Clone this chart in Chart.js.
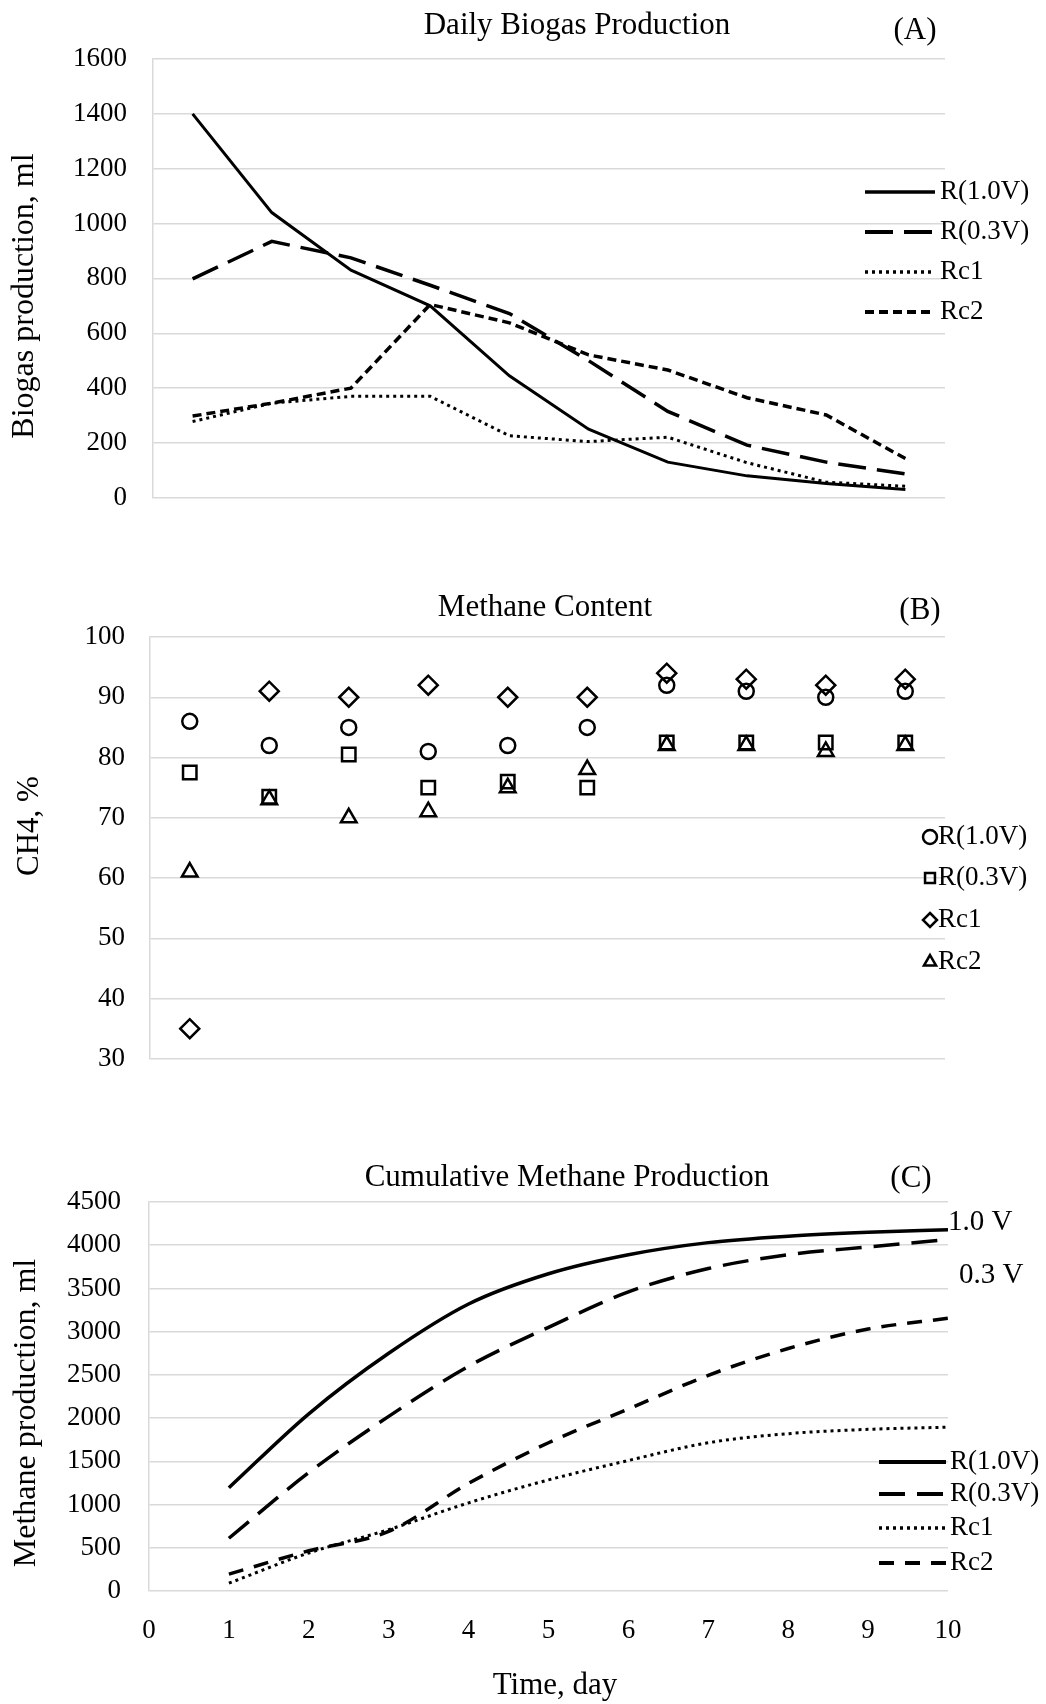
<!DOCTYPE html>
<html><head><meta charset="utf-8">
<script src="https://cdn.jsdelivr.net/npm/chart.js@4.4.1/dist/chart.umd.min.js"></script>
<style>
html,body{margin:0;padding:0;background:#fff;}
#wrap{position:relative;width:1046px;height:1704px;background:#fff;}
canvas{position:absolute;left:0;}
</style></head><body>
<div id="wrap">
<canvas id="cA" width="1046" height="540" style="top:0px"></canvas>
<canvas id="cB" width="1046" height="560" style="top:540px"></canvas>
<canvas id="cC" width="1046" height="604" style="top:1100px"></canvas>
</div>
<script>
// ---------- data ----------
const days = [1, 2, 3, 4, 5, 6, 7, 8, 9, 10];
const seriesNames = ['R(1.0V)', 'R(0.3V)', 'Rc1', 'Rc2'];

// (A) Daily biogas production, ml
const biogasR10 = [1400, 1040, 830, 700, 445, 250, 130, 80, 52, 30];
const biogasR03 = [798, 935, 875, 775, 672, 500, 315, 192, 130, 87];
const biogasRc1 = [278, 345, 370, 370, 226, 205, 221, 128, 57, 42];
const biogasRc2 = [298, 345, 400, 705, 638, 521, 466, 365, 302, 143];

// (B) Methane content, %
const ch4R10 = [86, 82, 85, 81, 82, 85, 92, 91, 90, 91];
const ch4R03 = [77.5, 73.5, 80.5, 75, 76, 75, 82.5, 82.5, 82.5, 82.5];
const ch4Rc1 = [35, 91, 90, 92, 90, 90, 94, 93, 92, 93];
const ch4Rc2 = [61, 73, 70, 71, 75, 78, 82, 82, 81, 82];

// (C) Cumulative methane production, ml
const cumR10 = [1195, 2050, 2750, 3320, 3670, 3890, 4030, 4105, 4150, 4180];
const cumR03 = [610, 1370, 2020, 2600, 3050, 3460, 3730, 3890, 3980, 4065];
const cumRc1 = [90, 440, 710, 1020, 1285, 1510, 1715, 1820, 1870, 1895];
const cumRc2 = [195, 465, 690, 1245, 1715, 2105, 2495, 2805, 3030, 3155];

// tick ranges
const biogasTicks = [0, 200, 400, 600, 800, 1000, 1200, 1400, 1600];
const ch4Ticks = [30, 40, 50, 60, 70, 80, 90, 100];
const cumTicks = [0, 500, 1000, 1500, 2000, 2500, 3000, 3500, 4000, 4500];
const timeTicks = [0, 1, 2, 3, 4, 5, 6, 7, 8, 9, 10];

// ---------- styling ----------
const FONT = "'Liberation Serif','Times New Roman',serif";
Chart.defaults.font.family = FONT;
Chart.defaults.color = '#000';
const GRID = '#d9d9d9';

function drawMarker(ctx, style, x, y, r) {
  ctx.beginPath();
  if (style === 'circle') {
    ctx.arc(x, y, r, 0, Math.PI * 2);
  } else if (style === 'rect') {
    const h = r * Math.SQRT1_2;
    ctx.rect(x - h, y - h, 2 * h, 2 * h);
  } else if (style === 'rectRot') {
    ctx.moveTo(x, y - r); ctx.lineTo(x + r, y); ctx.lineTo(x, y + r); ctx.lineTo(x - r, y); ctx.closePath();
  } else if (style === 'triangle') {
    ctx.moveTo(x, y - r);
    ctx.lineTo(x + r * Math.sin(Math.PI * 2 / 3), y - r * Math.cos(Math.PI * 2 / 3));
    ctx.lineTo(x - r * Math.sin(Math.PI * 2 / 3), y - r * Math.cos(Math.PI * 2 / 3));
    ctx.closePath();
  }
  ctx.stroke();
}

const textPlugin = {
  id: 'texts',
  afterDraw(chart, args, opts) {
    const ctx = chart.ctx;
    (opts.items || []).forEach(it => {
      ctx.save();
      ctx.fillStyle = '#000';
      ctx.font = (it.size || 27) + 'px ' + FONT;
      ctx.textAlign = it.align || 'center';
      ctx.textBaseline = 'middle';
      ctx.translate(it.x, it.y);
      if (it.rotate) ctx.rotate(it.rotate);
      ctx.fillText(it.text, 0, 0);
      ctx.restore();
    });
  }
};

const legendPlugin = {
  id: 'manualLegend',
  afterDraw(chart, args, opts) {
    if (!opts.rows) return;
    const ctx = chart.ctx;
    chart.data.datasets.forEach((ds, i) => {
      const y = opts.rows[i];
      ctx.save();
      ctx.strokeStyle = '#000';
      if (opts.kind === 'marker') {
        ctx.lineWidth = opts.markerWidth || 2.5;
        drawMarker(ctx, ds.pointStyle, opts.mx, y, opts.mr || 7);
      } else {
        ctx.lineWidth = (ds.borderWidth || 3) + 0.5;
        ctx.setLineDash(ds.borderDash || []);
        ctx.lineCap = 'butt';
        ctx.beginPath();
        ctx.moveTo(opts.x1, y);
        ctx.lineTo(opts.x2, y);
        ctx.stroke();
      }
      ctx.restore();
      ctx.save();
      ctx.fillStyle = '#000';
      ctx.font = (opts.size || 27) + 'px ' + FONT;
      ctx.textAlign = 'left';
      ctx.textBaseline = 'middle';
      ctx.fillText(ds.label, opts.tx, y);
      ctx.restore();
    });
  }
};
Chart.register(textPlugin, legendPlugin);

function yScale(ticks, width, pad) {
  return {
    type: 'linear',
    min: ticks[0], max: ticks[ticks.length - 1],
    ticks: { stepSize: ticks[1] - ticks[0], padding: pad, font: { size: 27 }, color: '#000',
             callback: v => String(v) },
    grid: { color: GRID, lineWidth: 1.5, drawTicks: false },
    border: { display: true, color: GRID, width: 1.5 },
    afterFit(s) { s.width = width; }
  };
}
const basePlugins = { legend: { display: false }, tooltip: { enabled: false }, title: { display: false } };

// ---------- (A) ----------
new Chart(document.getElementById('cA'), {
  type: 'line',
  data: {
    labels: days.map(String),
    datasets: [
      { label: seriesNames[0], data: biogasR10, borderColor: '#000', borderWidth: 3, borderDash: [], pointRadius: 0, tension: 0 },
      { label: seriesNames[1], data: biogasR03, borderColor: '#000', borderWidth: 3.5, borderDash: [28, 11], pointRadius: 0, tension: 0 },
      { label: seriesNames[2], data: biogasRc1, borderColor: '#000', borderWidth: 3, borderDash: [3, 4], pointRadius: 0, tension: 0 },
      { label: seriesNames[3], data: biogasRc2, borderColor: '#000', borderWidth: 3.5, borderDash: [9, 5], pointRadius: 0, tension: 0 }
    ]
  },
  options: {
    responsive: false, animation: false, devicePixelRatio: 1,
    layout: { padding: { left: 0, top: 59, right: 101, bottom: 30 } },
    scales: {
      x: { type: 'category', display: false, offset: true },
      y: yScale(biogasTicks, 153, 26)
    },
    plugins: Object.assign({}, basePlugins, {
      texts: { items: [
        { text: 'Daily Biogas Production', x: 577, y: 26, size: 31 },
        { text: '(A)', x: 915, y: 31, size: 31 },
        { text: 'Biogas production, ml', x: 25, y: 296, size: 32, rotate: -Math.PI / 2 }
      ] },
      manualLegend: { kind: 'line', x1: 865, x2: 935, tx: 940, rows: [192, 232, 272, 312], size: 27 }
    })
  }
});

// ---------- (B) ----------
function markerSet(label, data, style, r) {
  return { label, data, showLine: false, pointStyle: style, pointRadius: r, pointBorderWidth: 2.5,
           borderColor: '#000', pointBorderColor: '#000', pointBackgroundColor: 'rgba(0,0,0,0)', backgroundColor: 'rgba(0,0,0,0)' };
}
new Chart(document.getElementById('cB'), {
  type: 'line',
  data: {
    labels: days.map(String),
    datasets: [
      markerSet(seriesNames[0], ch4R10, 'circle', 7.5),
      markerSet(seriesNames[1], ch4R03, 'rect', 9.5),
      markerSet(seriesNames[2], ch4Rc1, 'rectRot', 9.5),
      markerSet(seriesNames[3], ch4Rc2, 'triangle', 9)
    ]
  },
  options: {
    responsive: false, animation: false, devicePixelRatio: 1,
    layout: { padding: { left: 0, top: 97, right: 101, bottom: 31 } },
    scales: {
      x: { type: 'category', display: false, offset: true },
      y: yScale(ch4Ticks, 150, 25)
    },
    plugins: Object.assign({}, basePlugins, {
      texts: { items: [
        { text: 'Methane Content', x: 545, y: 68, size: 31 },
        { text: '(B)', x: 920, y: 71, size: 31 },
        { text: 'CH4, %', x: 30, y: 286, size: 31, rotate: -Math.PI / 2 }
      ] },
      manualLegend: { kind: 'marker', mx: 930, mr: 7, tx: 938, rows: [297, 338, 380, 422], size: 27 }
    })
  }
});

// ---------- (C) ----------
function pts(arr) { return days.map((d, i) => ({ x: d, y: arr[i] })); }
new Chart(document.getElementById('cC'), {
  type: 'line',
  data: {
    datasets: [
      { label: seriesNames[0], data: pts(cumR10), borderColor: '#000', borderWidth: 3.5, borderDash: [], pointRadius: 0, cubicInterpolationMode: 'monotone' },
      { label: seriesNames[1], data: pts(cumR03), borderColor: '#000', borderWidth: 3.5, borderDash: [26, 12], pointRadius: 0, cubicInterpolationMode: 'monotone' },
      { label: seriesNames[2], data: pts(cumRc1), borderColor: '#000', borderWidth: 3, borderDash: [3, 4], pointRadius: 0, cubicInterpolationMode: 'monotone' },
      { label: seriesNames[3], data: pts(cumRc2), borderColor: '#000', borderWidth: 3.5, borderDash: [15, 11], pointRadius: 0, cubicInterpolationMode: 'monotone' }
    ]
  },
  options: {
    responsive: false, animation: false, devicePixelRatio: 1,
    layout: { padding: { left: 0, top: 102, right: 98, bottom: 53 } },
    scales: {
      x: {
        type: 'linear', min: timeTicks[0], max: timeTicks[timeTicks.length - 1],
        ticks: { stepSize: 1, padding: 24, font: { size: 27 }, color: '#000' },
        grid: { display: false, drawTicks: false },
        border: { display: false },
        afterFit(s) { s.height = 60; }
      },
      y: yScale(cumTicks, 149, 28)
    },
    plugins: Object.assign({}, basePlugins, {
      texts: { items: [
        { text: 'Cumulative Methane Production', x: 567, y: 78, size: 31 },
        { text: '(C)', x: 911, y: 79, size: 31 },
        { text: 'Methane production, ml', x: 27, y: 313, size: 32, rotate: -Math.PI / 2 },
        { text: 'Time, day', x: 555, y: 586, size: 31 },
        { text: '1.0 V', x: 948, y: 122, size: 29, align: 'left' },
        { text: '0.3 V', x: 959, y: 175, size: 29, align: 'left' }
      ] },
      manualLegend: { kind: 'line', x1: 879, x2: 946, tx: 950, rows: [362, 394, 428, 463], size: 27 }
    })
  }
});
</script>
</body></html>
